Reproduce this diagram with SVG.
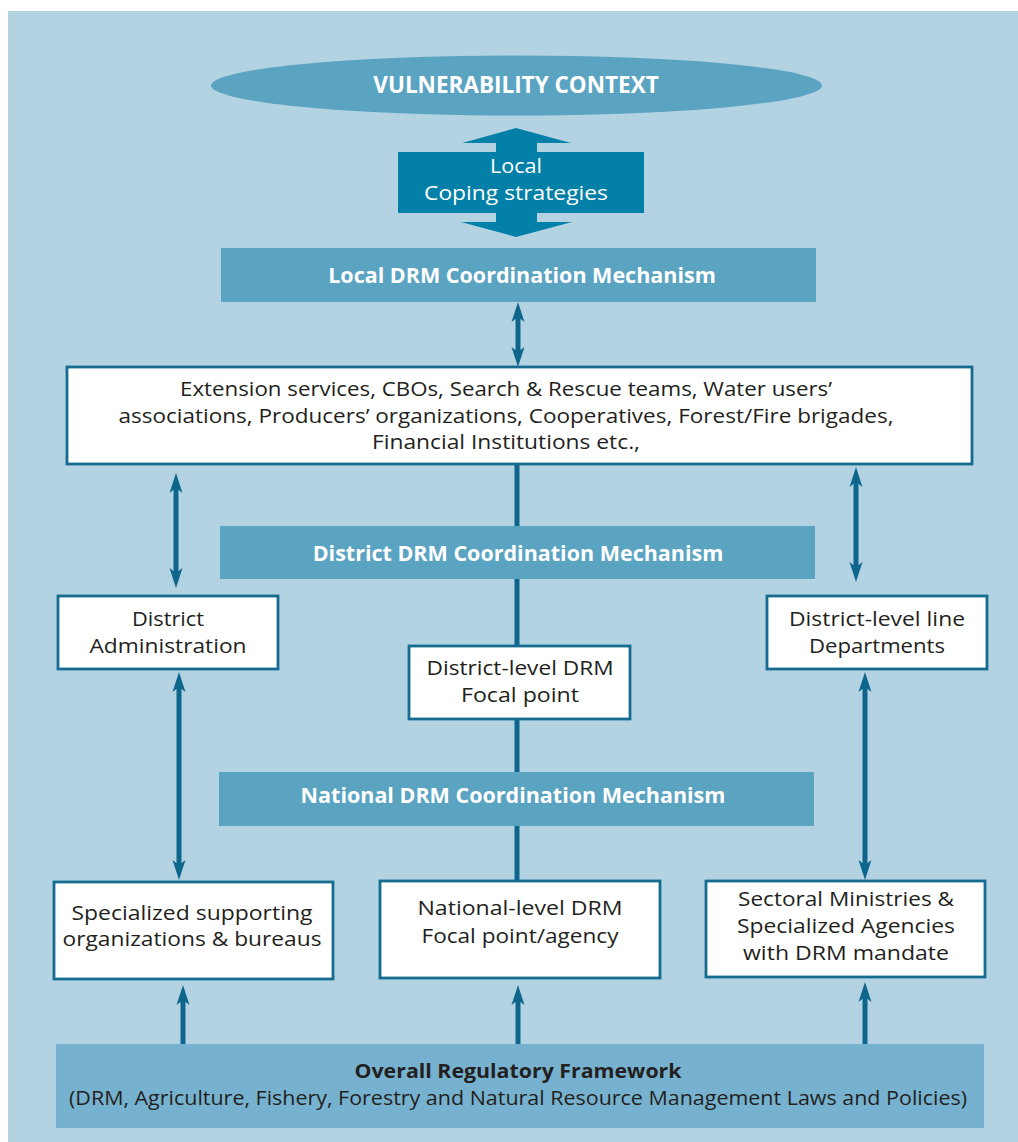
<svg xmlns="http://www.w3.org/2000/svg" width="1018" height="1142" viewBox="0 0 1018 1142">
<style>
.bg{fill:#b3d3e3}
.mech{fill:#5aa4c2}
.mtxt{font-family:"Open Sans","Liberation Sans",sans-serif;font-weight:bold;font-size:21.5px;fill:#ffffff;text-anchor:middle}
.box{fill:#ffffff;stroke:#156b90;stroke-width:2.8}
.txt{font-family:"Open Sans","Liberation Sans",sans-serif;font-size:20.5px;fill:#231f20;text-anchor:middle}
.fw{font-size:20px}
.wt{fill:#ffffff;font-size:20px}
.ln{stroke:#0f668c;stroke-width:5;fill:none}
</style>
<defs>
<marker id="ah" markerUnits="userSpaceOnUse" markerWidth="22" markerHeight="16" refX="5" refY="8" orient="auto-start-reverse" overflow="visible">
<path d="M0,1.5 L20,8 L0,14.5 L5,8 Z" fill="#0f668c"/>
</marker>
</defs>
<rect class="bg" x="8" y="11" width="1010" height="1131"/>

<g id="connectors">
<line class="ln" x1="518" y1="317" x2="518" y2="352" marker-start="url(#ah)" marker-end="url(#ah)"/>
<line class="ln" x1="517" y1="464" x2="517" y2="647"/>
<line class="ln" x1="517" y1="719" x2="517" y2="882"/>
<line class="ln" x1="176" y1="488" x2="176" y2="573" marker-start="url(#ah)" marker-end="url(#ah)"/>
<line class="ln" x1="856" y1="482" x2="856" y2="567" marker-start="url(#ah)" marker-end="url(#ah)"/>
<line class="ln" x1="179" y1="687" x2="179" y2="865" marker-start="url(#ah)" marker-end="url(#ah)"/>
<line class="ln" x1="865" y1="687" x2="865" y2="865" marker-start="url(#ah)" marker-end="url(#ah)"/>
<line class="ln" x1="183" y1="1044" x2="183" y2="1000" marker-end="url(#ah)"/>
<line class="ln" x1="518" y1="1044" x2="518" y2="1000" marker-end="url(#ah)"/>
<line class="ln" x1="865" y1="1044" x2="865" y2="997" marker-end="url(#ah)"/>
</g>

<g id="vulnerability">
<ellipse cx="516.5" cy="85.5" rx="305.5" ry="30" fill="#5aa4c2"/>
<text class="mtxt" x="516" y="93" style="font-size:22.5px">VULNERABILITY CONTEXT</text>
</g>

<g id="coping">
<path d="M516,128 L571,143 L537,143 L537,152 L644,152 L644,213 L537,213 L537,222 L572,222 L516,237 L461,222 L496,222 L496,213 L398,213 L398,152 L496,152 L496,143 L462,143 Z" fill="#0380a7"/>
<text class="txt wt" x="516" y="173" textLength="52" lengthAdjust="spacingAndGlyphs">Local</text>
<text class="txt wt" x="516" y="200" textLength="184" lengthAdjust="spacingAndGlyphs">Coping strategies</text>
</g>

<g id="local-drm">
<rect class="mech" x="221" y="248" width="595" height="54"/>
<text class="mtxt" x="522" y="283">Local DRM Coordination Mechanism</text>
</g>

<g id="extension">
<rect class="box" x="67" y="367" width="905" height="97"/>
<text class="txt" x="506" y="396" textLength="652" lengthAdjust="spacingAndGlyphs">Extension services, CBOs, Search &amp; Rescue teams, Water users’</text>
<text class="txt" x="506" y="423" textLength="775" lengthAdjust="spacingAndGlyphs">associations, Producers’ organizations, Cooperatives, Forest/Fire brigades,</text>
<text class="txt" x="506" y="449" textLength="268" lengthAdjust="spacingAndGlyphs">Financial Institutions etc.,</text>
</g>

<g id="district-drm">
<rect class="mech" x="220" y="526" width="595" height="53"/>
<text class="mtxt" x="518" y="561">District DRM Coordination Mechanism</text>
</g>

<g id="district-admin">
<rect class="box" x="58" y="596" width="220" height="73"/>
<text class="txt" x="168" y="626" textLength="72" lengthAdjust="spacingAndGlyphs">District</text>
<text class="txt" x="168" y="653" textLength="157" lengthAdjust="spacingAndGlyphs">Administration</text>
</g>

<g id="district-line">
<rect class="box" x="767" y="596" width="220" height="73"/>
<text class="txt" x="877" y="626" textLength="176" lengthAdjust="spacingAndGlyphs">District-level line</text>
<text class="txt" x="877" y="653" textLength="136" lengthAdjust="spacingAndGlyphs">Departments</text>
</g>

<g id="district-focal">
<rect class="box" x="409" y="646" width="221" height="73"/>
<text class="txt" x="520" y="675" textLength="187" lengthAdjust="spacingAndGlyphs">District-level DRM</text>
<text class="txt" x="520" y="702" textLength="118" lengthAdjust="spacingAndGlyphs">Focal point</text>
</g>

<g id="national-drm">
<rect class="mech" x="219" y="772" width="595" height="54"/>
<text class="mtxt" x="513" y="803">National DRM Coordination Mechanism</text>
</g>

<g id="specialized">
<rect class="box" x="54" y="882" width="279" height="97"/>
<text class="txt" x="192" y="920" textLength="241" lengthAdjust="spacingAndGlyphs">Specialized supporting</text>
<text class="txt" x="192" y="946" textLength="259" lengthAdjust="spacingAndGlyphs">organizations &amp; bureaus</text>
</g>

<g id="national-focal">
<rect class="box" x="380" y="881" width="280" height="97"/>
<text class="txt" x="520" y="915" textLength="205" lengthAdjust="spacingAndGlyphs">National-level DRM</text>
<text class="txt" x="520" y="943" textLength="197" lengthAdjust="spacingAndGlyphs">Focal point/agency</text>
</g>

<g id="sectoral">
<rect class="box" x="706" y="881" width="279" height="96"/>
<text class="txt" x="846" y="906" textLength="216" lengthAdjust="spacingAndGlyphs">Sectoral Ministries &amp;</text>
<text class="txt" x="846" y="933" textLength="218" lengthAdjust="spacingAndGlyphs">Specialized Agencies</text>
<text class="txt" x="846" y="960" textLength="206" lengthAdjust="spacingAndGlyphs">with DRM mandate</text>
</g>

<g id="framework">
<rect x="56" y="1044" width="928" height="84" fill="#76b2cf"/>
<text class="txt fw" x="518" y="1078" style="font-weight:bold" textLength="327" lengthAdjust="spacingAndGlyphs">Overall Regulatory Framework</text>
<text class="txt fw" x="518" y="1105" textLength="898" lengthAdjust="spacingAndGlyphs">(DRM, Agriculture, Fishery, Forestry and Natural Resource Management Laws and Policies)</text>
</g>
</svg>
